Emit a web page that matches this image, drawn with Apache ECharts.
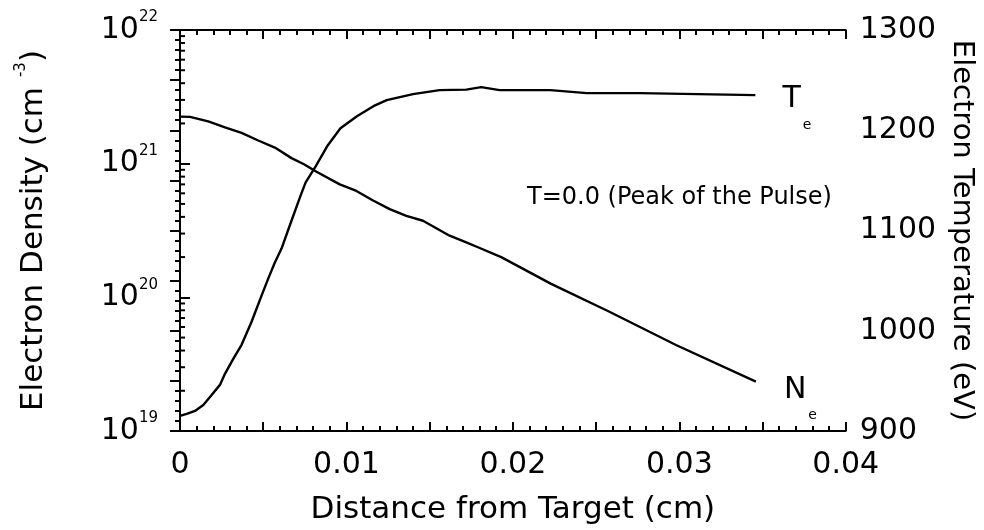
<!DOCTYPE html>
<html>
<head>
<meta charset="utf-8">
<script src="https://cdn.jsdelivr.net/npm/echarts@6/dist/echarts.min.js"></script>
<style>
    html, body {margin: 0; padding: 0; background: #fff;}
    #chart {width: 984px; height: 530px;}
</style>
</head>
<body>
<div id="chart"></div>
<script>
// electron temperature (eV) vs distance from target (cm)
var teX = [0, 0.0004, 0.0009, 0.0014, 0.0019, 0.0024, 0.0027, 0.0032, 0.0037, 0.0043, 0.0049, 0.0053, 0.0057, 0.0061,
    0.00666, 0.00725, 0.00755, 0.00815, 0.00884, 0.00964, 0.01063, 0.01162, 0.01242, 0.0140, 0.0156, 0.0172, 0.0181,
    0.0192, 0.02225, 0.02444, 0.02762, 0.03457];
var teVal = [915, 917, 920, 926, 936, 946, 957, 972, 986, 1009, 1035, 1052, 1068, 1082,
    1108, 1135, 1148, 1164, 1184, 1202, 1214, 1224, 1230, 1236, 1240, 1240.5, 1243,
    1240, 1240, 1237, 1237, 1235];

// electron density (cm^-3) vs distance from target (cm)
var neX = [0, 0.0006, 0.0017, 0.0027, 0.0037, 0.0047, 0.0057, 0.0067, 0.00745, 0.0082, 0.0096, 0.0106, 0.0116,
    0.0126, 0.0136, 0.0146, 0.0162, 0.0172, 0.0179, 0.0193, 0.0223, 0.0258, 0.0298, 0.0346];
var neVal = [2.25e21, 2.24e21, 2.07e21, 1.87e21, 1.70e21, 1.49e21, 1.32e21, 1.10e21, 9.9e20, 8.7e20, 7.0e20, 6.25e20, 5.3e20,
    4.57e20, 4.07e20, 3.74e20, 2.89e20, 2.58e20, 2.37e20, 2.0e20, 1.26e20, 7.8e19, 4.4e19, 2.34e19];

// tick labels
var xTickVals = [0, 0.01, 0.02, 0.03, 0.04];
var xTickLabels = ['0', '0.01', '0.02', '0.03', '0.04'];
var tempTickVals = [900, 1000, 1100, 1200, 1300];
var tempTickLabels = ['900', '1000', '1100', '1200', '1300'];
var densDecades = [1e19, 1e20, 1e21, 1e22];
var densExps = ['19', '20', '21', '22'];
var logMinorMult = [2, 3, 4, 5, 6, 7, 8, 9];

var font = 'DejaVu Sans';

function pickLabel(v, vals, labels) {
    for (var i = 0; i < vals.length; i++) {
        if (Math.abs(v - vals[i]) < 1e-9 * Math.max(1, Math.abs(vals[i]))) return labels[i];
    }
    return '';
}

var tePairs = teX.map(function (x, i) { return [x, teVal[i]]; });
var nePairs = neX.map(function (x, i) { return [x, neVal[i]]; });
var minorLog = [];
densDecades.slice(0, 3).forEach(function (d) {
    logMinorMult.forEach(function (m) { minorLog.push([0, m * d]); });
});

var chart = echarts.init(document.getElementById('chart'));

var axisLineStyle = {lineStyle: {color: '#000', width: 2}};
var tickStyle = {color: '#000', width: 2};
var curveStyle = {color: '#000', width: 2.4};

var option = {
    animation: false,
    textStyle: {fontFamily: font, color: '#000'},
    title: {
        text: 'T=0.0 (Peak of the Pulse)',
        left: 527, top: 186, padding: 0,
        textStyle: {fontFamily: font, fontSize: 24, fontWeight: 'normal', color: '#000'}
    },
    grid: {left: 180, right: 133, top: 30, bottom: 97},
    xAxis: [
        {
            type: 'value', min: 0, max: 0.04, interval: 0.005, position: 'bottom',
            name: 'Distance from Target (cm)', nameLocation: 'middle', nameGap: 63,
            nameTextStyle: {fontFamily: font, fontSize: 31, color: '#000'},
            axisLine: axisLineStyle,
            axisTick: {inside: true, length: 9, lineStyle: tickStyle},
            minorTick: {show: true, splitNumber: 5, length: 5, lineStyle: tickStyle},
            axisLabel: {
                margin: 19, fontSize: 30, color: '#000', fontFamily: font,
                formatter: function (v) { return pickLabel(v, xTickVals, xTickLabels); }
            },
            splitLine: {show: false}
        },
        {
            type: 'value', min: 0, max: 0.04, interval: 0.005, position: 'top',
            axisLine: axisLineStyle,
            axisTick: {inside: true, length: 9, lineStyle: tickStyle},
            minorTick: {show: true, splitNumber: 5, length: 5, lineStyle: tickStyle},
            axisLabel: {show: false},
            splitLine: {show: false}
        }
    ],
    yAxis: [
        {
            type: 'log', logBase: 10, min: 1e19, max: 1e22, position: 'left',
            name: 'Electron Density (cm {s|-3})', nameLocation: 'middle', nameGap: 146,
            nameTextStyle: {
                fontFamily: font, fontSize: 31, color: '#000', lineHeight: 40, verticalAlign: 'middle',
                rich: {s: {fontFamily: font, fontSize: 15, color: '#000', verticalAlign: 'top', lineHeight: 16}}
            },
            axisLine: axisLineStyle,
            axisTick: {inside: true, length: 10, lineStyle: tickStyle},
            axisLabel: {
                margin: 22,
                formatter: function (v) {
                    var e = pickLabel(v, densDecades, densExps);
                    return e ? '{b|10}{s|' + e + '}' : '';
                },
                rich: {
                    b: {fontFamily: font, fontSize: 30, color: '#000', lineHeight: 40, verticalAlign: 'middle'},
                    s: {fontFamily: font, fontSize: 15, color: '#000', lineHeight: 16, verticalAlign: 'top'}
                }
            },
            splitLine: {show: false}
        },
        {
            type: 'value', min: 900, max: 1300, interval: 50, position: 'right',
            name: 'Electron Temperature (eV)', nameLocation: 'middle', nameGap: 99, nameRotate: -90,
            nameTextStyle: {fontFamily: font, fontSize: 29, color: '#000'},
            axisLine: axisLineStyle,
            axisTick: {inside: true, length: 10, lineStyle: tickStyle},
            minorTick: {show: true, splitNumber: 5, length: 5, lineStyle: tickStyle},
            axisLabel: {
                margin: 14, fontSize: 30, color: '#000', fontFamily: font, padding: [0, 0, 14, 0],
                formatter: function (v) { return pickLabel(v, tempTickVals, tempTickLabels); }
            },
            splitLine: {show: false}
        }
    ],
    series: [
        {
            name: 'Ne', type: 'line', xAxisIndex: 0, yAxisIndex: 0, data: nePairs,
            symbol: 'none', lineStyle: curveStyle,
            endLabel: {
                show: true, distance: 28, offset: [0, 9], formatter: '{m|N}{s|e}',
                rich: {
                    m: {fontFamily: font, fontSize: 30, color: '#000', verticalAlign: 'middle'},
                    s: {fontFamily: font, fontSize: 14, color: '#000', padding: [50, 0, 0, 2]}
                }
            }
        },
        {
            name: 'Te', type: 'line', xAxisIndex: 0, yAxisIndex: 1, data: tePairs,
            symbol: 'none', lineStyle: curveStyle,
            endLabel: {
                show: true, distance: 27, offset: [0, 4], formatter: '{m|T}{s|e}',
                rich: {
                    m: {fontFamily: font, fontSize: 30, color: '#000', verticalAlign: 'middle'},
                    s: {fontFamily: font, fontSize: 14, color: '#000', padding: [52, 0, 0, 2]}
                }
            }
        },
        {
            // minor ticks of the log axis at 2..9 x each decade
            type: 'custom', xAxisIndex: 0, yAxisIndex: 0, data: minorLog, silent: true, clip: false,
            renderItem: function (params, api) {
                var p = api.coord([api.value(0), api.value(1)]);
                return {
                    type: 'line',
                    shape: {x1: p[0], y1: p[1], x2: p[0] + 5, y2: p[1]},
                    style: {stroke: '#000', lineWidth: 2}
                };
            }
        }
    ]
};

chart.setOption(option);
</script>
</body>
</html>
